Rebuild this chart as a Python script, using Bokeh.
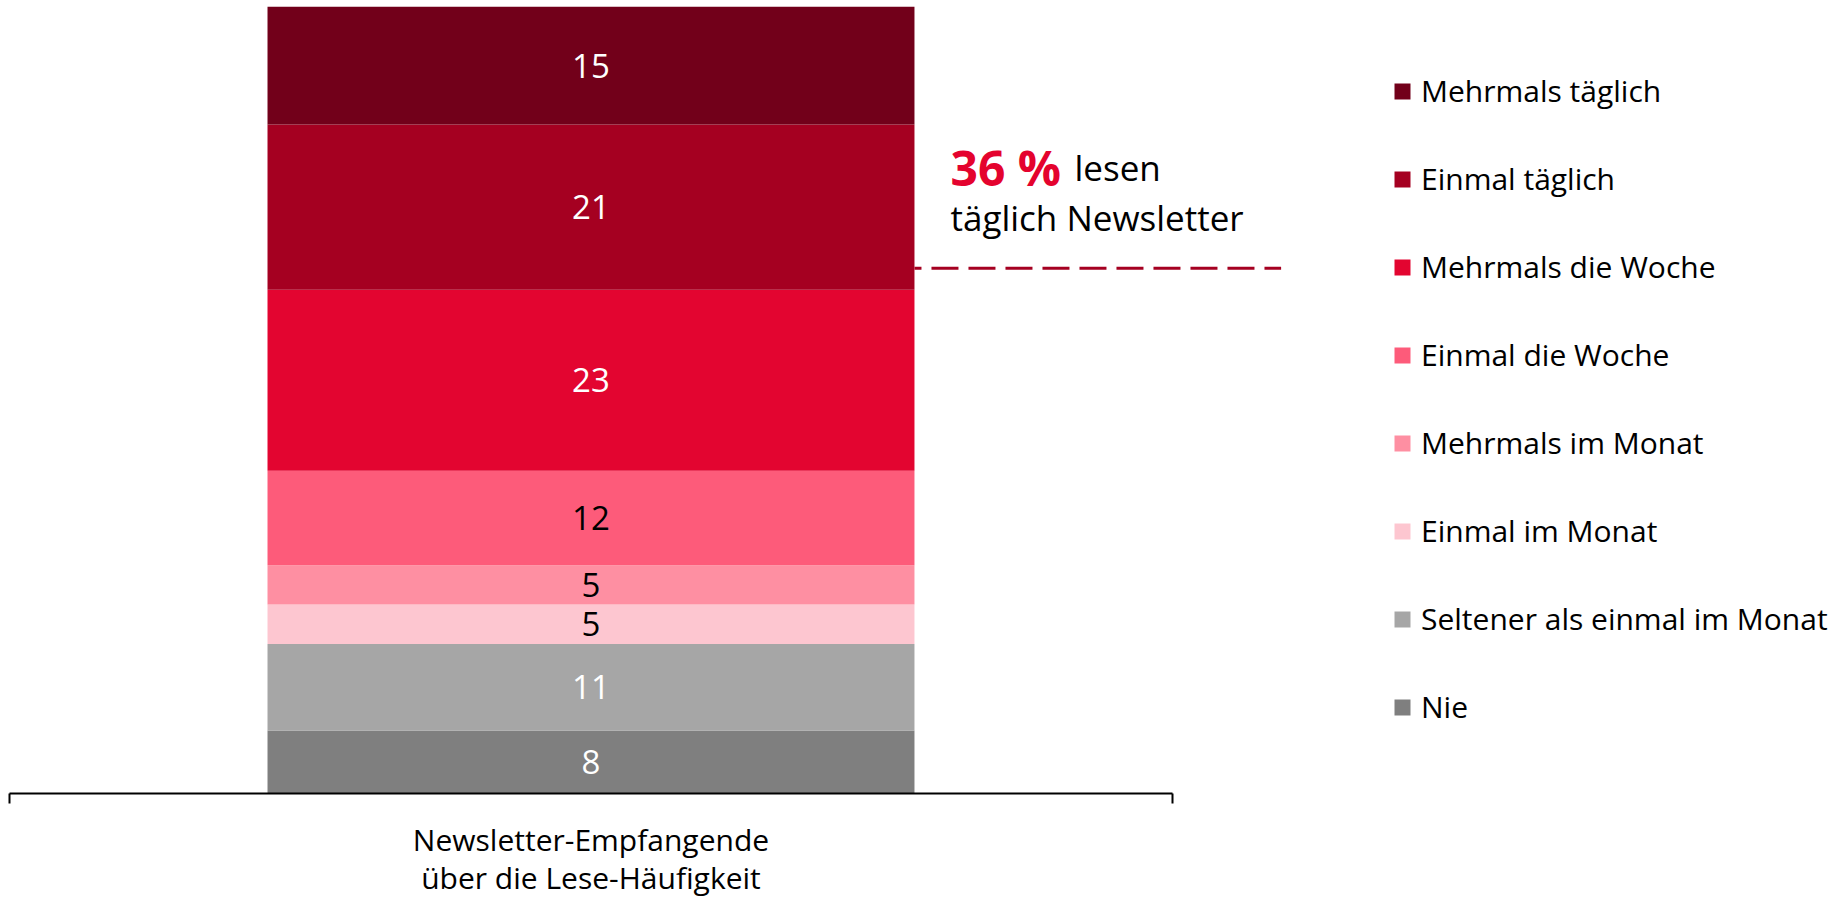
from bokeh.plotting import figure
from bokeh.models import (ColumnDataSource, Range1d, FixedTicker, Legend, LegendItem,
                          Label)
from bokeh.core.properties import value
from bokeh.embed import file_html
from bokeh.resources import INLINE

# ---- data (bottom to top) ----
categories = ["Nie", "Seltener als einmal im Monat", "Einmal im Monat", "Mehrmals im Monat",
              "Einmal die Woche", "Mehrmals die Woche", "Einmal täglich", "Mehrmals täglich"]
values = [8, 11, 5, 5, 12, 23, 21, 15]
colors = ["#7F7F7F", "#A6A6A6", "#FDC6D0", "#FE8FA2", "#FD5B7A", "#E30530", "#A50021", "#72001A"]
label_colors = ["#FFFFFF", "#FFFFFF", "#000000", "#000000", "#000000", "#FFFFFF", "#FFFFFF", "#FFFFFF"]
bar_label = "Newsletter-Empfangende\nüber die Lese-Häufigkeit"
highlight_value = 36
highlight_level = 66.75

FONT = "Open Sans"

p = figure(width=1830, height=902, output_backend="svg", toolbar_location=None,
           x_range=Range1d(0, 1.5658), y_range=Range1d(0, 100),
           y_axis_location=None, min_border_left=9, min_border_right=0,
           min_border_top=6, min_border_bottom=109)
p.outline_line_color = None
p.xgrid.visible = False
p.ygrid.visible = False

keys = ["s%d" % i for i in range(len(values))]
src = ColumnDataSource({"x": [0.5], **{k: [v] for k, v in zip(keys, values)}})
bar_w = 0.5563
renderers = p.vbar_stack(keys, x="x", width=bar_w, color=colors, line_color=None, source=src)

# value labels
mids = []
acc = 0
for v in values:
    mids.append(acc + v / 2)
    acc += v
lab_src = ColumnDataSource({"x": [0.5] * len(values), "y": mids,
                            "t": [str(v) for v in values], "c": label_colors})
p.text(x="x", y="y", text="t", source=lab_src, text_color="c", text_align="center",
       text_baseline="middle", text_font=value(FONT), text_font_size="33px")

# dashed reference line
seg_src = ColumnDataSource({"x0": [0.5 + bar_w / 2], "x1": [1.0934],
                            "y0": [highlight_level], "y1": [highlight_level]})
p.segment(x0="x0", y0="y0", x1="x1", y1="y1", source=seg_src, line_color="#A50021",
          line_width=3, line_dash="27 10", line_dash_offset=20)

# annotation
p.add_layout(Label(x=941, y=626, x_units="screen", y_units="screen",
                   text="%d %%" % highlight_value, text_font=FONT, text_font_size="48px",
                   text_font_style="bold", text_color="#E4032E", text_baseline="alphabetic"))
p.add_layout(Label(x=1065, y=626, x_units="screen", y_units="screen",
                   text="lesen", text_font=FONT, text_font_size="35px",
                   text_color="#000000", text_baseline="alphabetic"))
p.add_layout(Label(x=941, y=576, x_units="screen", y_units="screen",
                   text="täglich Newsletter", text_font=FONT, text_font_size="35px",
                   text_color="#000000", text_baseline="alphabetic"))

# x axis (bracket with end ticks)
ax = p.xaxis[0]
ax.ticker = FixedTicker(ticks=[0.5], minor_ticks=[0, 1])
ax.bounds = (0, 1)
ax.major_label_overrides = {0.5: bar_label}
ax.major_tick_line_color = None
ax.major_tick_out = 0
ax.major_tick_in = 0
ax.minor_tick_out = 10
ax.minor_tick_in = 0
ax.minor_tick_line_color = "#000000"
ax.minor_tick_line_width = 2
ax.axis_line_color = "#000000"
ax.axis_line_width = 2
ax.major_label_text_font = FONT
ax.major_label_text_font_size = "30px"
ax.major_label_text_color = "#000000"
ax.major_label_text_line_height = 0.95
ax.major_label_standoff = 15

# legend (top to bottom)
items = [LegendItem(label=categories[i], renderers=[renderers[i]])
         for i in reversed(range(len(values)))]
legend = Legend(items=items, location=(1383, 64.5), orientation="vertical",
                glyph_width=20, glyph_height=20, label_height=44, spacing=44,
                label_standoff=9, padding=0, margin=0,
                border_line_color=None, background_fill_alpha=0,
                label_text_font=FONT, label_text_font_size="30px",
                label_text_color="#000000")
p.add_layout(legend)

open("out.html", "w").write(file_html(p, INLINE))
